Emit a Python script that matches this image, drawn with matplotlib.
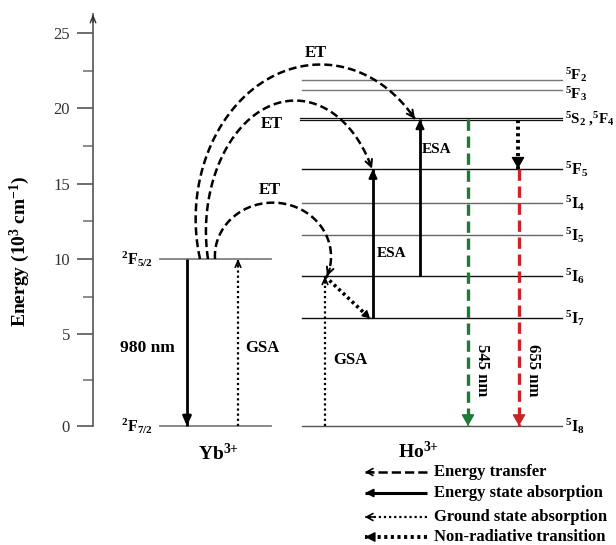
import matplotlib
matplotlib.use("Agg")
import matplotlib.pyplot as plt
import numpy as np

plt.rcParams["font.family"] = "Liberation Serif"
plt.rcParams["mathtext.fontset"] = "custom"
plt.rcParams["mathtext.rm"] = "Liberation Serif:bold"
plt.rcParams["mathtext.it"] = "Liberation Serif:bold"
plt.rcParams["mathtext.bf"] = "Liberation Serif:bold"

# energy levels, 10^3 cm^-1
ybKeys = ["2F7/2", "2F5/2"]
ybNames = ["$^2$F$_{7/2}$", "$^2$F$_{5/2}$"]
ybEnergy = [0.0, 10.0]

hoKeys = ["5I8", "5I7", "5I6", "5I5", "5I4", "5F5", "5S2", "5F3", "5F2"]
hoNames = ["$^5$I$_8$", "$^5$I$_7$", "$^5$I$_6$", "$^5$I$_5$", "$^5$I$_4$",
           "$^5$F$_5$", "$^5$S$_2$ ,$^5$F$_4$", "$^5$F$_3$", "$^5$F$_2$"]
hoEnergy = [0.0, 6.05, 8.85, 11.6, 13.7, 16.0, 19.3, 21.2, 21.9]

# transitions (from level, to level)
etSteps = [("2F5/2", "5I6"), ("2F5/2", "5F5"), ("2F5/2", "5S2")]
esaSteps = [("5I7", "5F5"), ("5I6", "5S2")]
emission = [("5S2", "5I8"), ("5F5", "5I8")]
emissionNames = ["545 nm", "655 nm"]
pumpName = "980 nm"

legendNames = ["Energy transfer", "Energy state absorption",
               "Ground state absorption", "Non-radiative transition"]
yTicks = [0, 5, 10, 15, 20, 25]
yMinor = [2.5, 7.5, 12.5, 17.5, 22.5]

STRETCH = 1.22  # the part below 5 is drawn taller


def fwd(e):
    e = np.asarray(e, dtype=float)
    return np.where(e < 5, e * STRETCH, e - 5 + 5 * STRETCH)


def inv(f):
    f = np.asarray(f, dtype=float)
    return np.where(f < 5 * STRETCH, f / STRETCH, f + 5 - 5 * STRETCH)


def head(ax, p0, p1, style, color="black", lw=1.5, trans=None, length=6):
    # arrow head at p1 pointing away from p0
    if trans is None:
        trans = ax.transData
    d0 = trans.transform(p0)
    d1 = trans.transform(p1)
    u = (d0 - d1) / np.hypot(*(d0 - d1))
    ax.annotate("", xy=p1, xycoords=trans, xytext=(u[0] * length, u[1] * length),
                textcoords="offset points",
                arrowprops=dict(arrowstyle=style, color=color, lw=lw,
                                shrinkA=0, shrinkB=0, mutation_scale=10))


def arrow(ax, p0, p1, ls, lw, style, color="black", hlw=None, trans=None, length=6):
    if trans is None:
        trans = ax.transData
    ax.plot([p0[0], p1[0]], [p0[1], p1[1]], color=color, lw=lw, linestyle=ls,
            transform=trans, clip_on=False, solid_capstyle="butt")
    head(ax, p0, p1, style, color, hlw if hlw else lw, trans, length)


def etArc(ax, x0, e0, x1, e1, xc, ec, a, b):
    # elliptical arc over the top, nudged so the ends sit on the levels
    t0 = np.arctan2((e0 - ec) / b, (x0 - xc) / a)
    if t0 < 0:
        t0 += 2 * np.pi
    t1 = np.arctan2((e1 - ec) / b, (x1 - xc) / a)
    t = np.linspace(t0, t1, 200)
    x = xc + a * np.cos(t)
    y = ec + b * np.sin(t)
    s = np.linspace(0, 1, 200)
    x = x + (1 - s) * (x0 - x[0]) + s * (x1 - x[-1])
    y = y + (1 - s) * (e0 - y[0]) + s * (e1 - y[-1])
    ax.plot(x, y, color="black", lw=1.8, linestyle=(0, (3.2, 1.6)), clip_on=False)
    head(ax, (x[-6], y[-6]), (x[-1], y[-1]), "->,head_length=0.5,head_width=0.25", lw=1.4)


def main():
    E = dict(zip(ybKeys + hoKeys, ybEnergy + hoEnergy))

    fig = plt.figure(figsize=(6.16, 5.45), dpi=100)
    ax = fig.add_axes([93 / 616, 119 / 545, 1 - 93 / 616, 412 / 545])
    ax.set_yscale("function", functions=(fwd, inv))
    ax.set_xlim(93, 616)
    ax.set_ylim(0, 26.28)

    # axis
    for s in ["top", "right", "bottom"]:
        ax.spines[s].set_visible(False)
    ax.spines["left"].set_color("#555555")
    ax.spines["left"].set_linewidth(1.2)
    ax.set_xticks([])
    ax.set_yticks(yTicks)
    ax.set_yticklabels([str(t) for t in yTicks])
    ax.set_yticks(yMinor, minor=True)
    ax.tick_params(axis="y", which="major", length=11.5, width=1.2, color="#555555",
                   labelsize=12, labelcolor="#333333", pad=5)
    ax.tick_params(axis="y", which="minor", length=7, width=1.2, color="#777777")
    head(ax, (93, 25), (93, 26.28), "->,head_length=0.5,head_width=0.2",
         color="#333333", lw=1.0)
    fig.text(20 / 616, 1 - 251 / 545, "Energy (10$^3$ cm$^{-1}$)", rotation=90,
             ha="center", va="center", fontsize=14, fontweight="bold")

    # Yb levels
    for name, e in zip(ybNames, ybEnergy):
        ax.plot([160, 271], [e, e], color="#808080", lw=1.3, clip_on=False)
        ax.text(153, e, name, ha="right", va="center", fontsize=11.5, fontweight="bold")

    # Ho levels
    hoColors = ["#555555", "#111111", "#111111", "#666666", "#666666",
                "#111111", "#111111", "#777777", "#777777"]
    nudge = {"5F2": 0.3, "5F3": -0.25}
    for key, name, e, c in zip(hoKeys, hoNames, hoEnergy, hoColors):
        size = 11.5
        if key == "5S2":
            ax.plot([300, 562], [e + 0.07, e + 0.07], color=c, lw=0.9)
            ax.plot([300, 562], [e - 0.07, e - 0.07], color=c, lw=0.9)
            size = 10.8
        else:
            ax.plot([302, 562], [e, e], color=c, lw=1.0, clip_on=False)
        if key in nudge:
            size = 11
        ax.text(565, e + nudge.get(key, 0), name, ha="left", va="center",
                fontsize=size, fontweight="bold")

    tr = ax.get_xaxis_transform()
    ax.text(219, -0.066, "Yb$^{3{+}}$", ha="center", va="center", fontsize=14,
            fontweight="bold", transform=tr)
    ax.text(419, -0.061, "Ho$^{3{+}}$", ha="center", va="center", fontsize=14,
            fontweight="bold", transform=tr)

    solidHead = "-|>,head_length=0.55,head_width=0.25"
    openHead = "->,head_length=0.45,head_width=0.2"
    bigHead = "-|>,head_length=0.7,head_width=0.4"
    dots = (0, (1, 1.3))
    heavyDots = (0, (0.8, 0.9))

    # Yb pump and ground state absorption
    top, bot = E["2F5/2"], E["2F7/2"]
    arrow(ax, (187, top), (187, bot), "-", 2.0, solidHead)
    ax.text(120, 4.24, pumpName, ha="left", va="center", fontsize=12.5, fontweight="bold")
    arrow(ax, (238, bot), (238, top), dots, 1.6, openHead, hlw=1.2, length=5)
    ax.text(245, 4.24, "GSA", ha="left", va="center", fontsize=12, fontweight="bold")

    # energy transfer arcs
    (s1, d1), (s2, d2), (s3, d3) = etSteps
    etArc(ax, 215, E[s1], 327, E[d1], 272, 10.25, 57, 3.52)
    etArc(ax, 208, E[s2], 372, E[d2], 290, 12.24, 82, 8.1)
    etArc(ax, 200, E[s3], 415, E[d3], 318, 12.9, 120, 9.9)
    ax.text(270, 14.57, "ET", ha="center", va="center", fontsize=12, fontweight="bold")
    ax.text(272, 18.95, "ET", ha="center", va="center", fontsize=12, fontweight="bold")
    ax.text(316, 23.67, "ET", ha="center", va="center", fontsize=12, fontweight="bold")

    # Ho ground state absorption and relaxation to 5I7
    arrow(ax, (325, E["5I8"]), (325, E["5I6"]), dots, 1.6, openHead, hlw=1.2, length=5)
    ax.text(333, 3.59, "GSA", ha="left", va="center", fontsize=12, fontweight="bold")
    arrow(ax, (325, E["5I6"]), (370, E["5I7"]), heavyDots, 2.6,
          "-|>,head_length=0.45,head_width=0.25", hlw=1.0, length=5)

    # excited state absorption
    esaX = [373, 420]
    esaText = [(377, 10.38), (422, 17.3)]
    for (a, b), x, (tx, ty) in zip(esaSteps, esaX, esaText):
        arrow(ax, (x, E[a]), (x, E[b]), "-", 2.0, solidHead, hlw=1.5)
        ax.text(tx, ty, "ESA", ha="left", va="center", fontsize=11, fontweight="bold")

    # emissions
    arrow(ax, (518, E["5S2"] - 0.07), (518, E["5F5"]), heavyDots, 2.8, bigHead,
          hlw=1.0, length=8)
    emColors = ["#1e7a36", "#cc2229"]
    emX = [468, 519]
    for (a, b), x, c, name in zip(emission, emX, emColors, emissionNames):
        arrow(ax, (x, E[a]), (x, E[b]), (0, (3.4, 1.7)), 2.4, bigHead, color=c,
              hlw=1.0, length=8)
        ax.text(x + 14, 3.04, name, ha="center", va="center", rotation=270,
                fontsize=12, fontweight="bold")

    # legend
    legendY = [-0.1117, -0.1626, -0.2209, -0.2694]
    legendStyle = [("--", 1.8, "->,head_length=0.45,head_width=0.25", 1.2),
                   ("-", 2.2, "-|>,head_length=0.5,head_width=0.25", 1.2),
                   (dots, 1.6, "->,head_length=0.45,head_width=0.25", 1.2),
                   (heavyDots, 2.8, "-|>,head_length=0.6,head_width=0.3", 1.0)]
    for y, name, (ls, lw, hs, hlw) in zip(legendY, legendNames, legendStyle):
        arrow(ax, (427, y), (365, y), ls, lw, hs, hlw=hlw, trans=tr, length=6)
        ax.text(434, y, name, ha="left", va="center", fontsize=12,
                fontweight="bold", transform=tr)

    fig.savefig("out.png", dpi=100)


if __name__ == "__main__":
    main()
